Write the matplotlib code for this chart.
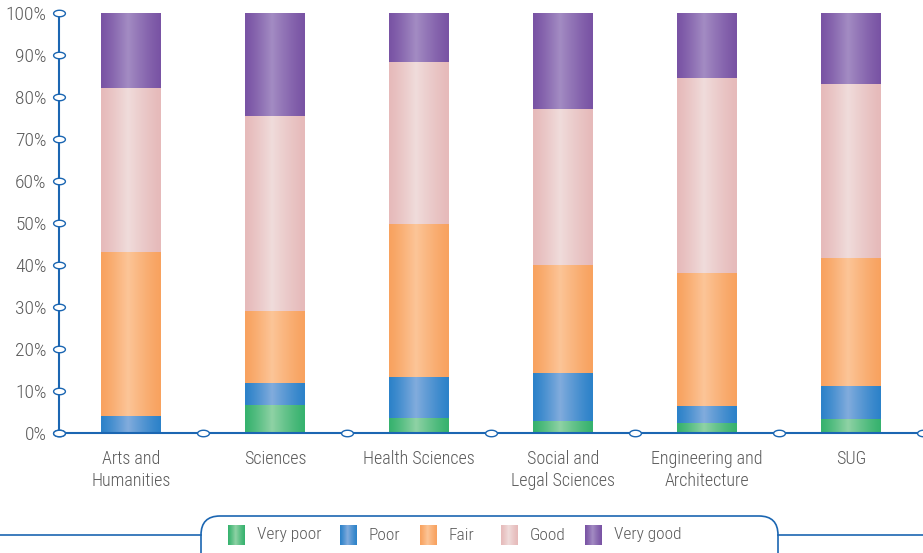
import numpy as np
import matplotlib
matplotlib.use("Agg")
import matplotlib.pyplot as plt
from matplotlib.path import Path
from matplotlib.patches import FancyBboxPatch
from matplotlib.colors import to_rgb
from matplotlib import font_manager

names = {(f.name, f.stretch) for f in font_manager.fontManager.ttflist}
fam_names = {n for n, s in names}
cond = None
for cand in ['Liberation Sans Narrow', 'Roboto Condensed', 'Open Sans Condensed',
             'Noto Sans Condensed', 'DejaVu Sans Condensed']:
    if cand in fam_names:
        cond = cand
        break
stretch = 'normal'
if cond is None:
    for n, s in names:
        if n in ('Noto Sans', 'DejaVu Sans', 'Open Sans', 'Roboto') and s != 'normal':
            cond = n
            stretch = 'condensed'
            break
if cond is None:
    cond = 'Open Sans'
plt.rcParams['font.family'] = [cond, 'DejaVu Sans']
plt.rcParams['font.stretch'] = stretch
plt.rcParams['font.weight'] = 'light'

categories = ["Arts and\nHumanities", "Sciences", "Health Sciences",
              "Social and\nLegal Sciences", "Engineering and\nArchitecture", "SUG"]
series = ["Very poor", "Poor", "Fair", "Good", "Very good"]
very_poor = [0.0, 6.7, 3.6, 2.9, 2.4, 3.3]
poor      = [4.0, 5.2, 9.7, 11.4, 4.0, 7.9]
fair      = [39.1, 17.1, 36.5, 25.7, 31.7, 30.5]
good      = [39.0, 46.5, 38.5, 37.1, 46.4, 41.4]
very_good = [17.9, 24.5, 11.7, 22.9, 15.5, 16.9]
yticks = [0, 10, 20, 30, 40, 50, 60, 70, 80, 90, 100]
ytick_labels = [f"{v}%" for v in yticks]

edge_cols = ["#36b26e", "#2c82c9", "#f8a25f", "#e6baba", "#7953a4"]
mid_cols  = ["#8fd2a5", "#82acdd", "#fcc598", "#f0dcdb", "#a38cc3"]
axis_col = "#1b66b2"
text_col = "#5a5a5a"

W, H = 923, 553
fig = plt.figure(figsize=(W/100, H/100), dpi=100)
ax = fig.add_axes([59/W, (H-433)/H, (W-59)/W, 420/H])

def grad_img(c_edge, c_mid, n=64):
    t = np.linspace(0, 1, n)
    peak = 0.45
    w = np.where(t < peak, t/peak, (1-t)/(1-peak))
    w = np.clip(w, 0, 1) ** 1.2
    e = np.array(to_rgb(c_edge)); m = np.array(to_rgb(c_mid))
    img = e[None, :] * (1-w[:, None]) + m[None, :] * w[:, None]
    return img[None, :, :]

data = [very_poor, poor, fair, good, very_good]
x = np.arange(len(categories))
bw = 0.41
bottom = np.zeros(len(categories))
for i, vals in enumerate(data):
    vals = np.array(vals)
    bars = ax.bar(x, vals, bw, bottom=bottom, color=edge_cols[i], linewidth=0, zorder=2)
    img = grad_img(edge_cols[i], mid_cols[i])
    for p in bars:
        if p.get_height() <= 0:
            continue
        x0, y0 = p.get_x(), p.get_y()
        im = ax.imshow(img, extent=[x0, x0 + p.get_width(), y0, y0 + p.get_height()],
                       aspect='auto', zorder=3, interpolation='bilinear')
        im.set_clip_path(p)
    bottom += vals

ax.set_xlim(-0.5, len(categories) - 0.5)
ax.set_ylim(0, 100)
for s in ["top", "right"]:
    ax.spines[s].set_visible(False)
for s in ["left", "bottom"]:
    ax.spines[s].set_color(axis_col)
    ax.spines[s].set_linewidth(1.5)
ax.spines["bottom"].set_zorder(4)
ax.set_yticks(yticks)
ax.set_yticklabels(ytick_labels)
ax.set_xticks(x)
ax.set_xticklabels(categories, linespacing=1.33)
ax.tick_params(axis='both', length=0, labelcolor=text_col)
ax.tick_params(axis='y', pad=9, labelsize=14)
ax.tick_params(axis='x', pad=12, labelsize=13)

# ellipse tick markers
th = np.linspace(0, 2*np.pi, 40)
ell = Path(np.column_stack([np.cos(th), 0.55*np.sin(th)]), closed=True)
ax.plot(np.zeros(len(yticks)) - 0.5, yticks, ls='none', marker=ell, ms=8.5,
        mfc='white', mec=axis_col, mew=1.0, clip_on=False, zorder=5)
xb = np.arange(len(categories) + 1) - 0.5
ax.plot(xb, np.zeros(len(xb)), ls='none', marker=ell, ms=8.5,
        mfc='white', mec=axis_col, mew=1.0, clip_on=False, zorder=5)

# legend in pixel coordinates
lax = fig.add_axes([0, 0, 1, 1], zorder=-1)
lax.set_xlim(0, W); lax.set_ylim(H, 0); lax.axis('off')
lax.plot([0, 201], [535, 535], color=axis_col, lw=1.2)
lax.plot([778, W], [535, 535], color=axis_col, lw=1.2)
box = FancyBboxPatch((201, 516), 577, 60, boxstyle="round,pad=0,rounding_size=19",
                     fc='white', ec=axis_col, lw=1.2)
lax.add_patch(box)
sq_x = [228, 340, 420, 501, 585]
for i, name in enumerate(series):
    img = grad_img(edge_cols[i], mid_cols[i])
    lax.imshow(img, extent=[sq_x[i], sq_x[i] + 17, 545, 525], aspect='auto',
               interpolation='bilinear', zorder=3)
    lax.text(sq_x[i] + 29, 535, name, va='center', ha='left', fontsize=12.5, color=text_col)
lax.set_xlim(0, W); lax.set_ylim(H, 0)

fig.savefig("out.png", dpi=100)
